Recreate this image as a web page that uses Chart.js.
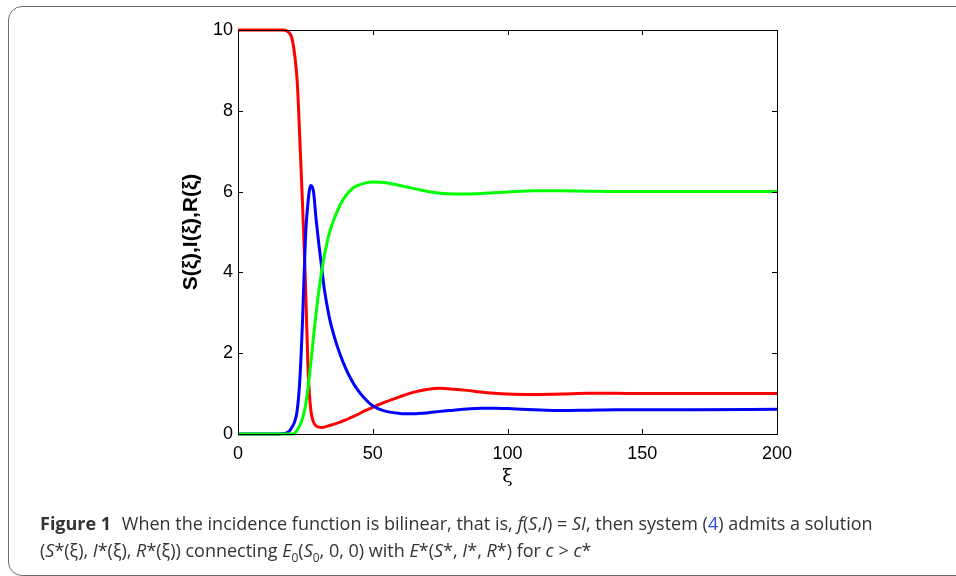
<!DOCTYPE html>
<html>
<head>
<meta charset="utf-8">
<script src="https://cdn.jsdelivr.net/npm/chart.js@4"></script>
<style>
  body { margin: 0; background: #fff; }
  #wrap { position: relative; width: 956px; height: 576px; overflow: hidden; }
  #frame { position: absolute; left: 8px; top: 6px; width: 1000px; height: 568px;
           border: 1.5px solid #6e6e6e; border-radius: 14px; }
  #c { position: absolute; left: 0; top: 0; }
  #caption { position: absolute; left: 40px; top: 510px; font-family: "Open Sans", sans-serif;
             font-size: 18px; line-height: 27px; color: #333; white-space: nowrap; }
  #caption b { font-weight: 700; margin-right: 6px; }
  #caption a { color: #2b49e0; text-decoration: none; }
  #caption sub { font-size: 12px; }
</style>
</head>
<body>
<div id="wrap">
  <div id="frame"></div>
  <canvas id="c" width="956" height="576"></canvas>
  <div id="caption">
    <b>Figure 1</b> When the incidence function is bilinear, that is, <i>f</i>(<i>S</i>,<i>I</i>) = <i>SI</i>, then system (<a>4</a>) admits a solution<br>
    (<i>S</i>*(ξ), <i>I</i>*(ξ), <i>R</i>*(ξ)) connecting <i>E</i><sub>0</sub>(<i>S</i><sub>0</sub>, 0, 0) with <i>E</i>*(<i>S</i>*, <i>I</i>*, <i>R</i>*) for <i>c</i> &gt; <i>c</i>*
  </div>
</div>
<script>
// du lieu doc tu hinh
const xs = [0, 10, 15, 17, 18, 19, 20, 21, 22, 23, 24, 25, 26, 27, 28, 29, 30, 31, 32, 33, 34, 36, 38, 40, 42, 44, 47, 50, 55, 60, 65, 70, 75, 80, 85, 90, 95, 100, 110, 120, 130, 140, 150, 170, 200];
// S(xi) - do
const S = [10, 10, 10, 10, 9.98, 9.93, 9.8, 9.4, 8.7, 7.2, 5.6, 3.8, 1.6, 0.6, 0.3, 0.2, 0.17, 0.16, 0.17, 0.19, 0.21, 0.25, 0.3, 0.35, 0.41, 0.47, 0.57, 0.66, 0.8, 0.92, 1.03, 1.1, 1.13, 1.11, 1.08, 1.04, 1.01, 0.99, 0.98, 0.99, 1.01, 1.01, 1.0, 1.0, 1.0];
// I(xi) - xanh duong
const I = [0, 0, 0, 0.01, 0.03, 0.07, 0.17, 0.3, 0.6, 1.4, 2.9, 4.8, 5.75, 6.15, 6.0, 5.3, 4.7, 4.15, 3.6, 3.2, 2.85, 2.35, 1.95, 1.62, 1.35, 1.13, 0.88, 0.7, 0.56, 0.51, 0.5, 0.52, 0.56, 0.59, 0.62, 0.64, 0.64, 0.63, 0.6, 0.58, 0.59, 0.6, 0.6, 0.6, 0.61];
// R(xi) - xanh la
const R = [0, 0, 0, 0, 0, 0, 0, 0.02, 0.1, 0.22, 0.4, 0.68, 1.15, 1.75, 2.4, 3.0, 3.55, 4.0, 4.4, 4.72, 5.0, 5.38, 5.68, 5.9, 6.05, 6.14, 6.21, 6.24, 6.22, 6.15, 6.08, 6.01, 5.96, 5.94, 5.94, 5.95, 5.97, 5.99, 6.02, 6.02, 6.01, 6.0, 6.0, 6.0, 6.0];

const xTicks = [0, 50, 100, 150, 200];
const yTicks = [0, 2, 4, 6, 8, 10];

function toPoints(arr) {
  return xs.map((x, i) => ({ x: x, y: arr[i] }));
}

// khung hop va vach chia huong vao trong (kieu matlab)
const boxPlugin = {
  id: 'box',
  afterDraw(chart) {
    const ctx = chart.ctx;
    const a = chart.chartArea;
    const sx = chart.scales.x, sy = chart.scales.y;
    const tl = 5;
    ctx.save();
    ctx.strokeStyle = '#000';
    ctx.lineWidth = 1;
    ctx.strokeRect(a.left + 0.5, a.top + 0.5, a.right - a.left, a.bottom - a.top);
    ctx.beginPath();
    xTicks.forEach(v => {
      const p = Math.round(sx.getPixelForValue(v)) + 0.5;
      ctx.moveTo(p, a.bottom); ctx.lineTo(p, a.bottom - tl);
      ctx.moveTo(p, a.top); ctx.lineTo(p, a.top + tl);
    });
    yTicks.forEach(v => {
      const p = Math.round(sy.getPixelForValue(v)) + 0.5;
      ctx.moveTo(a.left, p); ctx.lineTo(a.left + tl, p);
      ctx.moveTo(a.right, p); ctx.lineTo(a.right - tl, p);
    });
    ctx.stroke();
    ctx.restore();
  }
};

const tickFont = { family: '"Liberation Sans", Arial, sans-serif', size: 18 };

new Chart(document.getElementById('c'), {
  type: 'line',
  data: {
    datasets: [
      { label: 'S', data: toPoints(S), borderColor: '#ff0000', order: 3 },
      { label: 'I', data: toPoints(I), borderColor: '#0000ff', order: 2 },
      { label: 'R', data: toPoints(R), borderColor: '#00ff00', order: 1 }
    ]
  },
  options: {
    responsive: false,
    animation: false,
    events: [],
    layout: { padding: { left: 168, top: 30, right: 179, bottom: 88 } },
    elements: {
      point: { radius: 0 },
      line: { borderWidth: 3, cubicInterpolationMode: 'monotone', fill: false }
    },
    datasets: { line: { clip: false } },
    plugins: { legend: { display: false }, tooltip: { enabled: false } },
    scales: {
      x: {
        type: 'linear', min: 0, max: 200,
        afterBuildTicks: s => { s.ticks = xTicks.map(v => ({ value: v })); },
        afterFit: s => { s.height = 54; },
        grid: { display: false, drawTicks: false },
        border: { display: false },
        ticks: { color: '#000', font: tickFont, padding: 9, maxRotation: 0 },
        title: { display: true, text: 'ξ', color: '#000', font: { family: '"DejaVu Serif", serif', size: 19 }, padding: { top: 3, bottom: 0 } }
      },
      y: {
        type: 'linear', min: 0, max: 10,
        afterBuildTicks: s => { s.ticks = yTicks.map(v => ({ value: v })); },
        afterFit: s => { s.width = 70; },
        grid: { display: false, drawTicks: false },
        border: { display: false },
        ticks: { color: '#000', font: tickFont, padding: 5 },
        title: { display: true, text: 'S(ξ),I(ξ),R(ξ)', color: '#000', font: { family: '"Liberation Sans", Arial, sans-serif', size: 21, weight: 'bold' }, padding: { top: 11, bottom: 0 } }
      }
    }
  },
  plugins: [boxPlugin]
});
</script>
</body>
</html>
